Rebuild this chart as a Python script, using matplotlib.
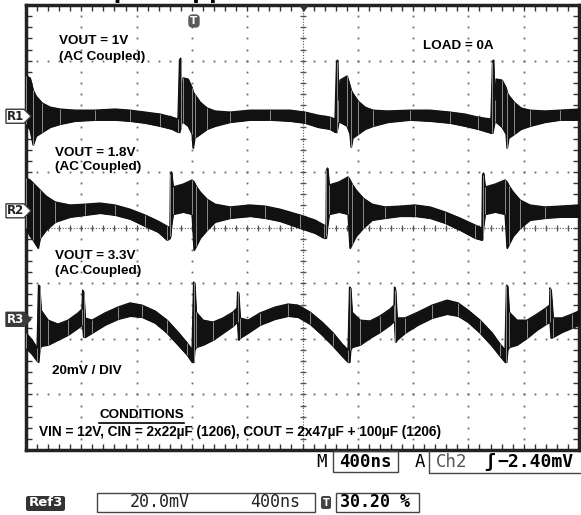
import numpy as np
import matplotlib.pyplot as plt
from matplotlib.patches import Polygon, Rectangle, FancyBboxPatch
from matplotlib.lines import Line2D

W, H = 581, 515

# time in ns (400 ns/div), ripple in mV (20 mV/div), upper / lower envelope of each trace
t_1v = [0, 29, 51, 72, 116, 174, 246, 354, 499, 644,
        752, 861, 969, 1056, 1099, 1110, 1118, 1125, 1136, 1172,
        1201, 1208, 1219, 1259, 1309, 1367, 1476, 1620, 1765, 1910,
        2018, 2112, 2199, 2235, 2246, 2253, 2260, 2271, 2322, 2343,
        2351, 2362, 2401, 2452, 2510, 2618, 2777, 2922, 3067, 3175,
        3269, 3363, 3374, 3381, 3389, 3400, 3443, 3472, 3479, 3490,
        3530, 3580, 3645, 3754, 3863, 4000]
hi_1v = [14.5, 13.8, 9.4, 7.3, 4.8, 3.3, 2.6, 2.2, 2.2, 2.6,
         2.2, 1.5, 0.8, -0.3, -1.0, 20.2, 20.9, 5.8, 13.8, 13.4,
         10.2, 8.7, 8.0, 5.1, 3.0, 1.9, 1.5, 2.2, 2.2, 2.2,
         1.5, 0.4, -0.3, -1.0, 19.5, 20.2, 5.8, 13.0, 14.5, 10.9,
         9.4, 8.4, 5.5, 3.3, 2.2, 1.9, 2.2, 2.2, 1.5, 0.8,
         -0.3, -1.0, 19.5, 20.2, 5.8, 13.4, 13.0, 10.2, 8.7, 7.6,
         5.1, 3.0, 2.2, 1.9, 2.2, 2.6]
lo_1v = [-2.8, -4.9, -10.3, -7.1, -5.7, -3.9, -2.8, -1.7, -1.3, -1.3,
         -1.7, -2.4, -3.5, -4.6, -5.7, -5.7, -4.2, -2.1, -2.1, -3.5,
         -6.4, -11.4, -7.8, -6.4, -4.6, -3.5, -2.1, -1.3, -1.3, -1.7,
         -2.4, -3.9, -4.6, -5.7, -5.7, -4.2, -2.1, -2.1, -3.5, -6.4,
         -11.1, -7.8, -6.4, -4.6, -3.5, -2.1, -1.3, -1.7, -2.4, -3.5,
         -4.6, -6.0, -6.0, -4.2, -2.1, -2.1, -3.9, -6.4, -11.4, -7.8,
         -6.4, -4.6, -3.5, -2.1, -1.3, -1.3]

t_18v = [0, 29, 51, 87, 101, 145, 210, 318, 427, 535,
         644, 752, 861, 955, 1020, 1041, 1045, 1052, 1063, 1136,
         1201, 1215, 1230, 1259, 1309, 1367, 1476, 1620, 1729, 1837,
         1982, 2090, 2155, 2170, 2173, 2181, 2192, 2264, 2329, 2343,
         2358, 2387, 2438, 2503, 2597, 2705, 2814, 2922, 3031, 3139,
         3248, 3298, 3302, 3309, 3320, 3392, 3465, 3479, 3494, 3523,
         3573, 3645, 3754, 3863, 4000]
hi_18v = [11.8, 11.1, 10.0, 8.2, 7.5, 5.3, 3.2, 2.1, 2.4, 2.8,
          2.1, 0.6, -1.5, -3.7, -5.5, -6.2, 13.2, 14.0, 8.6, 9.6,
          11.1, 10.4, 8.9, 6.8, 4.2, 2.4, 1.4, 2.1, 1.7, 0.6,
          -1.5, -3.3, -5.1, -5.5, 14.7, 15.4, 9.3, 10.4, 12.2, 11.1,
          9.6, 7.5, 4.6, 2.4, 1.4, 1.7, 2.1, 1.4, -0.4, -2.6,
          -5.1, -6.2, 12.9, 13.6, 8.6, 9.6, 11.1, 10.4, 8.9, 6.8,
          3.9, 2.1, 1.4, 1.7, 2.1]
lo_18v = [-6.2, -9.1, -10.5, -13.4, -9.8, -6.9, -4.0, -2.2, -1.5, -0.8,
          -1.5, -2.9, -5.5, -7.6, -10.5, -9.8, -9.1, -5.1, -1.2, -0.4,
          -1.2, -14.1, -12.7, -9.8, -6.9, -4.0, -2.6, -1.9, -2.6, -3.7,
          -6.2, -8.0, -9.8, -9.8, -9.1, -5.1, -1.2, -0.4, -1.2, -13.4,
          -11.9, -9.1, -6.2, -3.3, -2.6, -1.9, -1.9, -2.6, -4.4, -6.9,
          -9.8, -10.5, -9.8, -5.5, -1.2, -0.4, -1.2, -13.4, -11.9, -9.1,
          -6.2, -3.3, -2.6, -2.2, -2.2]

t_33v = [0, 43, 80, 90, 98, 108, 159, 231, 304, 376,
         405, 409, 416, 427, 477, 571, 665, 752, 839, 933,
         1020, 1099, 1165, 1201, 1212, 1219, 1230, 1280, 1353, 1425,
         1497, 1526, 1530, 1537, 1548, 1606, 1693, 1801, 1895, 1967,
         2054, 2141, 2221, 2286, 2329, 2340, 2347, 2358, 2416, 2488,
         2560, 2633, 2662, 2665, 2672, 2683, 2741, 2835, 2937, 3045,
         3125, 3197, 3284, 3371, 3428, 3465, 3475, 3483, 3494, 3551,
         3624, 3696, 3761, 3787, 3790, 3797, 3812, 3877, 3949, 4000]
hi_33v = [-4.9, -7.4, -10.3, 12.3, 12.0, 3.3, -0.3, -1.7, -0.3, 2.3,
          3.7, 10.5, 9.8, 0.5, -0.3, 2.3, 4.4, 5.9, 5.1, 3.0,
          -0.3, -4.6, -8.5, -11.0, 13.4, 13.1, 2.6, -0.3, -1.0, 0.5,
          2.6, 4.1, 9.8, 9.5, 0.5, -0.3, 2.3, 4.4, 5.5, 5.1,
          2.6, -1.0, -4.9, -8.9, -11.0, 11.6, 11.3, 2.6, -0.3, -0.6,
          1.2, 3.7, 5.1, 11.6, 10.5, 0.5, 0.5, 2.6, 5.1, 6.9,
          5.9, 3.3, -0.3, -4.9, -8.9, -11.0, 12.3, 12.0, 2.6, -0.3,
          -0.3, 1.9, 4.1, 5.1, 11.3, 10.5, 0.5, 0.5, 1.9, 3.0]
lo_33v = [-10.3, -12.5, -15.0, -15.4, -11.0, -9.6, -9.2, -7.4, -5.6, -3.1,
          -2.0, -2.0, -6.4, -6.4, -4.9, -2.0, 0.1, 1.2, 0.8, -1.3,
          -4.9, -9.2, -12.8, -15.4, -15.4, -11.0, -10.0, -9.2, -7.4, -4.9,
          -2.4, -1.0, -1.0, -7.4, -6.7, -4.9, -2.0, 0.1, 1.2, 0.8,
          -1.7, -5.6, -9.6, -13.2, -15.4, -15.4, -11.0, -10.0, -9.2, -6.7,
          -4.6, -2.0, -0.6, -0.6, -8.2, -7.4, -4.9, -2.0, 0.5, 1.9,
          1.2, -1.0, -4.9, -9.6, -13.2, -15.4, -15.4, -11.0, -10.0, -9.2,
          -6.7, -3.8, -1.7, -1.0, -1.0, -6.7, -6.4, -4.6, -3.1, -2.0]

# reference (ground) level of each trace on screen, mV
ref_levels = [40.0, 6.0, -33.0]
ref_names = ['R1', 'R2', 'R3']


def fx(x):
    return x / W


def fy(y):
    return 1 - y / H


fig = plt.figure(figsize=(W / 100, H / 100), dpi=100)
ax = fig.add_axes([fx(26), fy(450), 553 / W, 445 / H])
ax.set_xlim(0, 4000)
ax.set_ylim(-80, 80)

# graticule dots
for k in range(1, 10):
    ys = np.arange(-80, 80.1, 4)
    ax.plot(np.full_like(ys, k * 400), ys, ls='none', marker='s', ms=1.3,
            color='#6a6a6a', mew=0)
for j in range(1, 8):
    xs = np.arange(0, 4000.1, 80)
    ax.plot(xs, np.full_like(xs, -80 + j * 20), ls='none', marker='s', ms=1.3,
            color='#6a6a6a', mew=0)
# center cross with small ticks
ax.axhline(0, color='#555555', lw=0.8, ls=(0, (1, 1.5)))
ax.axvline(2000, color='#555555', lw=0.8, ls=(0, (1, 1.5)))
xs = np.arange(0, 4000.1, 80)
ax.plot(xs, np.zeros_like(xs), ls='none', marker='|', ms=5, mew=0.9, color='#555555')
ys = np.arange(-80, 80.1, 4)
ax.plot(np.full_like(ys, 2000), ys, ls='none', marker='_', ms=5, mew=0.9, color='#555555')

ax.set_xticks(np.arange(0, 4001, 80))
ax.set_yticks(np.arange(-80, 81, 4))
ax.tick_params(direction='in', length=4, width=1, color='#333333', top=True, right=True,
               labelbottom=False, labelleft=False)
for sp in ax.spines.values():
    sp.set_linewidth(2.5)
    sp.set_color('#222222')

traces = [(t_1v, hi_1v, lo_1v), (t_18v, hi_18v, lo_18v), (t_33v, hi_33v, lo_33v)]
for (t, hi, lo), ref in zip(traces, ref_levels):
    t = np.array(t)
    hi = ref + np.array(hi)
    lo = ref + np.array(lo)
    ax.fill_between(t, lo, hi, facecolor='#111111', edgecolor='#111111', lw=0.8, zorder=5)
    ax.plot(t, hi, color='#111111', lw=0.9, zorder=5)
    ax.plot(t, lo, color='#111111', lw=0.9, zorder=5)
    ax.vlines(t[::2], lo[::2], hi[::2], color='#8c8c8c', lw=0.7, zorder=6)

# reference markers on the left
for name, ref in zip(ref_names, ref_levels):
    yp = 227.5 - ref / 20 * 55.625
    pts = [(fx(6), fy(yp - 7)), (fx(24), fy(yp - 7)), (fx(31), fy(yp)),
           (fx(24), fy(yp + 7)), (fx(6), fy(yp + 7))]
    dark = name == 'R3'
    fig.add_artist(Polygon(pts, closed=True, transform=fig.transFigure,
                           facecolor='#3a3a3a' if dark else 'white',
                           edgecolor='#3a3a3a', lw=1, zorder=10))
    fig.text(fx(15), fy(yp), name, ha='center', va='center', fontsize=8.5,
             fontweight='bold', color='white' if dark else '#222222',
             family='DejaVu Sans', zorder=11)

# trigger marks at top
fig.add_artist(FancyBboxPatch((fx(189), fy(27)), fx(10), 12 / H,
                              boxstyle='round,pad=0,rounding_size=0.006',
                              transform=fig.transFigure, facecolor='#5a5a5a',
                              edgecolor='#5a5a5a', zorder=10))
fig.text(fx(194), fy(21), 'T', ha='center', va='center', fontsize=7.5,
         fontweight='bold', color='white', zorder=11)
fig.add_artist(Polygon([(fx(299), fy(5)), (fx(309), fy(5)), (fx(304), fy(12))],
                       transform=fig.transFigure, facecolor='#333333',
                       edgecolor='none', zorder=10))

# title, cut off by the top edge as in the screenshot
fig.text(fx(66), fy(-3), 'Output Ripple', ha='left', va='baseline', fontsize=20,
         fontweight='bold', family='Liberation Sans')

lab = dict(fontsize=9.7, fontweight='bold', family='Liberation Sans', va='center',
           ha='left', zorder=12)
fig.text(fx(59), fy(41), 'VOUT = 1V', **lab)
fig.text(fx(59), fy(57), '(AC Coupled)', **lab)
fig.text(fx(423), fy(46), 'LOAD = 0A', **lab)
fig.text(fx(55), fy(153), 'VOUT = 1.8V', **lab)
fig.text(fx(55), fy(167), '(AC Coupled)', **lab)
fig.text(fx(55), fy(256), 'VOUT = 3.3V', **lab)
fig.text(fx(55), fy(271), '(AC Coupled)', **lab)
fig.text(fx(52), fy(371), '20mV / DIV', **lab)
fig.text(fx(99), fy(415), 'CONDITIONS', **lab)
fig.add_artist(Line2D([fx(99), fx(184)], [fy(423), fy(423)], color='black', lw=1.2,
                      transform=fig.transFigure))
fig.text(fx(39), fy(432), 'VIN = 12V, CIN = 2x22\u00b5F (1206), COUT = 2x47\u00b5F + 100\u00b5F (1206)',
         fontsize=9.8, fontweight='bold', family='Liberation Sans', va='center', ha='left')

# scope readouts under the screen
mono = dict(family='DejaVu Sans Mono', va='center', ha='left')
fig.text(fx(316), fy(462), 'M', fontsize=12.5, **mono)
fig.add_artist(Rectangle((fx(333), fy(472)), fx(65), 21 / H, transform=fig.transFigure,
                         facecolor='none', edgecolor='#444444', lw=1))
fig.text(fx(339), fy(462), '400ns', fontsize=12.5, fontweight='bold', **mono)
fig.text(fx(415), fy(462), 'A', fontsize=12.5, **mono)
fig.add_artist(Line2D([fx(429), fx(429), fx(581)], [fy(451), fy(473), fy(473)],
                      color='#444444', lw=1, transform=fig.transFigure))
fig.text(fx(436), fy(462), 'Ch2', fontsize=12.5, color='#555555', **mono)
fig.text(fx(484), fy(462), '\u0283', fontsize=13, fontweight='bold', **mono)
fig.text(fx(497), fy(462), '\u22122.40mV', fontsize=13, fontweight='bold', **mono)

fig.add_artist(FancyBboxPatch((fx(26), fy(511)), fx(39), 15 / H,
                              boxstyle='round,pad=0,rounding_size=0.004',
                              transform=fig.transFigure, facecolor='#333333',
                              edgecolor='none'))
fig.text(fx(45.5), fy(503), 'Ref3', fontsize=9.5, fontweight='bold', color='white',
         family='DejaVu Sans Condensed', ha='center', va='center')
fig.add_artist(Rectangle((fx(97), fy(512)), fx(218), 19 / H, transform=fig.transFigure,
                         facecolor='none', edgecolor='#444444', lw=1))
fig.text(fx(130), fy(502), '20.0mV', fontsize=12, color='#222222', **mono)
fig.text(fx(250), fy(502), '400ns', fontsize=12, color='#222222', **mono)
fig.add_artist(FancyBboxPatch((fx(321), fy(509)), fx(10), 13 / H,
                              boxstyle='round,pad=0,rounding_size=0.004',
                              transform=fig.transFigure, facecolor='#444444',
                              edgecolor='none'))
fig.text(fx(326), fy(502.5), 'T', ha='center', va='center', fontsize=7, fontweight='bold',
         color='white')
fig.add_artist(Rectangle((fx(336), fy(512)), fx(83), 19 / H, transform=fig.transFigure,
                         facecolor='none', edgecolor='#444444', lw=1))
fig.text(fx(340), fy(502), '30.20 %', fontsize=12, fontweight='bold', **mono)

fig.savefig('out.png', dpi=100, facecolor='white')
